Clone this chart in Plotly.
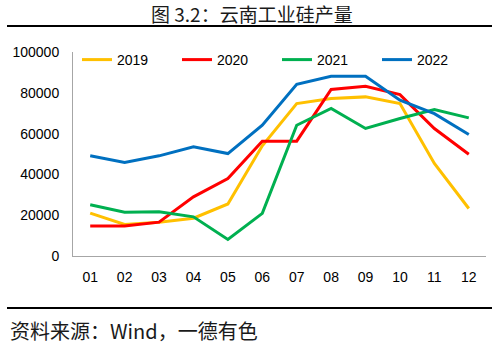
import plotly.graph_objects as go

# Monthly industrial silicon output in Yunnan (tonnes)
months = ["01", "02", "03", "04", "05", "06", "07", "08", "09", "10", "11", "12"]
y2019 = [21000, 15500, 16500, 18500, 25500, 54000, 74700, 77200, 78000, 74700, 45400, 23300]
y2020 = [14700, 14700, 16600, 29000, 38000, 56300, 56300, 81600, 83200, 79100, 62500, 49900]
y2021 = [25100, 21500, 21700, 19200, 8100, 20900, 64100, 72300, 62500, 67400, 71800, 67700]
y2022 = [49100, 45900, 49100, 53500, 50200, 64100, 84200, 88100, 88100, 76400, 69800, 59600]
y_ticks = [0, 20000, 40000, 60000, 80000, 100000]

series = [
    ("2019", y2019, "#FFC000"),
    ("2020", y2020, "#FF0000"),
    ("2021", y2021, "#00B050"),
    ("2022", y2022, "#0070C0"),
]

W, H = 498, 345
L, R, T, B = 73, 12, 52, 89
pw, ph = W - L - R, H - T - B


def px_x(px):
    return (px - L) / pw


def px_y(py):
    return (H - B - py) / ph


fig = go.Figure()
for name, vals, color in series:
    fig.add_trace(go.Scatter(
        x=months, y=vals, name=name, mode="lines",
        line=dict(color=color, width=3),
    ))

tick_font = dict(family="Liberation Sans, Arial, sans-serif", size=14, color="#000000")
cjk = "Noto Sans CJK SC, sans-serif"

fig.update_layout(
    width=W, height=H,
    margin=dict(l=L, r=R, t=T, b=B),
    paper_bgcolor="white", plot_bgcolor="white",
    showlegend=True,
    legend=dict(
        orientation="h", x=px_x(77), y=px_y(60), xanchor="left", yanchor="middle",
        font=tick_font, entrywidth=55, entrywidthmode="pixels",
        bgcolor="rgba(0,0,0,0)", itemclick=False, tracegroupgap=0,
    ),
    xaxis=dict(
        type="category", range=[-0.5, 11.5], showgrid=False, zeroline=False,
        showline=True, linecolor="#A6A6A6", linewidth=1, ticks="",
        tickfont=tick_font, ticklabelstandoff=8,
    ),
    yaxis=dict(
        range=[0, 100000], tickvals=y_ticks, ticktext=[str(v) for v in y_ticks],
        showgrid=False, zeroline=False, showline=True, linecolor="#A6A6A6",
        linewidth=1, ticks="", tickfont=tick_font, ticklabelstandoff=10,
    ),
    annotations=[
        dict(text="图 3.2：云南工业硅产量", xref="paper", yref="paper",
             x=px_x(252), y=px_y(13), xanchor="center", yanchor="middle",
             showarrow=False, font=dict(family=cjk, size=19, color="#1a1a1a")),
        dict(text="资料来源：Wind，一德有色", xref="paper", yref="paper",
             x=px_x(8), y=px_y(330), xanchor="left", yanchor="middle",
             showarrow=False, font=dict(family=cjk, size=20, color="#1a1a1a")),
    ],
    shapes=[
        dict(type="line", xref="paper", yref="paper", x0=px_x(7), x1=px_x(492),
             y0=px_y(26), y1=px_y(26), line=dict(color="#000000", width=2)),
        dict(type="line", xref="paper", yref="paper", x0=px_x(7), x1=px_x(492),
             y0=px_y(308), y1=px_y(308), line=dict(color="#000000", width=2)),
    ],
)

fig.write_html("out.html")
